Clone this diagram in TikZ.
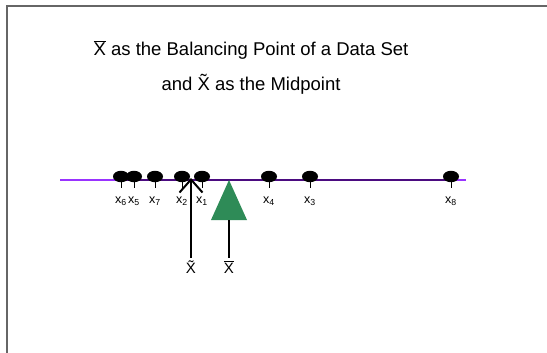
\documentclass[tikz,border=0pt]{standalone}
\usepackage{fontspec}
\setmainfont{Liberation Sans}
\usetikzlibrary{shapes.geometric,arrows.meta}
\definecolor{brightviolet}{HTML}{9933FF}
\definecolor{darkviolet}{HTML}{4B0B80}
\definecolor{seagreen}{HTML}{2E8B57}
\definecolor{framegray}{HTML}{666666}
\begin{document}
\begin{tikzpicture}[x=1pt,y=-1pt,
  dot/.style={ellipse,fill=black,minimum width=16pt,minimum height=11.5pt,inner sep=0pt},
  lab/.style={font=\fontsize{12.5}{14}\selectfont,inner sep=0pt},
  title/.style={font=\fontsize{18.5}{20}\selectfont,inner sep=0pt},
  stat/.style={font=\fontsize{15}{16}\selectfont,inner sep=0pt},
  tick/.style={line width=1pt},
  stem/.style={line width=2pt}]
\useasboundingbox (0,0) rectangle (547,353);
% frame
\draw[framegray,line width=1.6pt] (7,353) -- (7,6) -- (547,6);
% title
\node[title] (t1) at (251,50) {$\overline{\hbox{X}}$ as the Balancing Point of a Data Set};
\node[title] (t2) at (251,84) {and \~X as the Midpoint};
% number line
\coordinate (L) at (60,180);
\coordinate (R) at (466,180);
\coordinate (A) at (121,180);
\coordinate (B) at (451,180);
\draw[brightviolet,line width=1.4pt] (L) -- (R);
\draw[darkviolet,line width=1.4pt] (A) -- (B);
% data points
\foreach \n/\x in {6/121,5/134,7/155,2/182,1/202,4/269,3/310,8/451}{
  \node[dot] (d\n) at (\x,176.5) {};
  \coordinate (t\n) at (\x,188);
  \draw[tick] (d\n.center) -- (t\n);
  \node[lab] (l\n) at (\x,201) {x\textsubscript{\n}};
}
% median arrow
\coordinate (mtip) at (191,178);
\node[stat] (med) at (191,267) {\~X};
\coordinate (mb) at (191,258);
\draw[stem,-{Straight Barb[length=13pt,width=23pt,line width=2pt]}] (mb) -- (mtip);
% mean fulcrum
\coordinate (apex) at (229,180);
\coordinate (bl) at (211,220);
\coordinate (br) at (247,220);
\coordinate (bm) at (229,220);
\fill[seagreen] (apex) -- (bl) -- (br) -- cycle;
\node[stat] (mean) at (229,267) {$\overline{\hbox{X}}$};
\coordinate (me) at (229,258);
\draw[stem] (bm) -- (me);
\end{tikzpicture}
\end{document}
